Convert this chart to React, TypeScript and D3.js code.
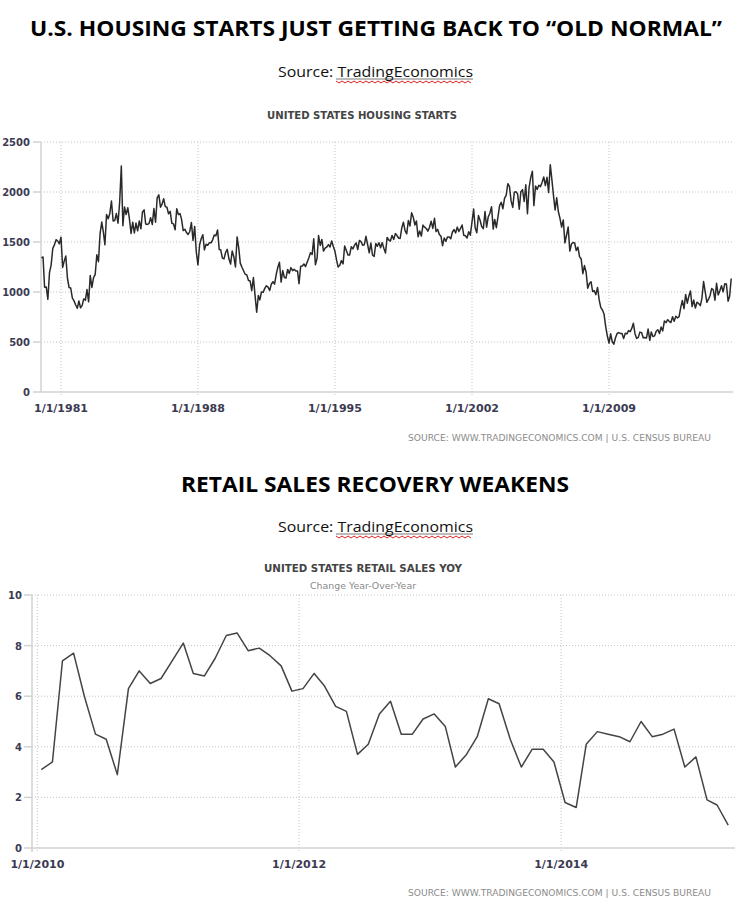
import React from "react";
import * as d3 from "d3";

// ---------- DATA ----------
// U.S. housing starts (thousands, SAAR), monthly from Jan 1980
const housing1980s = [
  1341, 1350, 1047, 1051, 927, 1196, 1269, 1436, 1471, 1523, 1510, 1482,
  1547, 1246, 1306, 1360, 1140, 1045, 1041, 940, 911, 873, 837, 910,
  843, 866, 931, 917, 1025, 902, 1166, 1046, 1144, 1173, 1372, 1303,
  1586, 1699, 1606, 1472, 1776, 1733, 1785, 1910, 1710, 1715, 1785, 1688,
  1897, 2260, 1663, 1851, 1774, 1843, 1732, 1586, 1698, 1590, 1689, 1612,
  1711, 1632, 1800, 1821, 1680, 1676, 1684, 1743, 1676, 1834, 1698, 1942,
  1972, 1848, 1876, 1933, 1854, 1847, 1782, 1807, 1687, 1681, 1623, 1833,
  1774, 1784, 1726, 1614, 1628, 1594, 1575, 1605, 1695, 1515, 1656, 1400,
  1271, 1473, 1532, 1573, 1421, 1478, 1467, 1493, 1492, 1522, 1569, 1563,
  1621, 1425, 1422, 1339, 1331, 1397, 1427, 1332, 1279, 1410, 1351, 1251,
];
const housing1990s = [
  1551, 1437, 1289, 1248, 1212, 1177, 1171, 1115, 1110, 1014, 1145, 969,
  798, 965, 921, 1001, 996, 1036, 1063, 1049, 1015, 1079, 1103, 1079,
  1176, 1250, 1297, 1099, 1214, 1145, 1139, 1226, 1186, 1244, 1214, 1227,
  1210, 1210, 1083, 1258, 1260, 1280, 1254, 1300, 1343, 1392, 1376, 1533,
  1272, 1337, 1564, 1465, 1526, 1409, 1439, 1450, 1474, 1450, 1511, 1455,
  1407, 1316, 1249, 1267, 1314, 1281, 1461, 1416, 1369, 1369, 1452, 1431,
  1467, 1491, 1424, 1516, 1504, 1467, 1472, 1557, 1475, 1392, 1489, 1370,
  1355, 1486, 1457, 1492, 1442, 1494, 1437, 1390, 1546, 1520, 1510, 1566,
  1525, 1584, 1567, 1540, 1536, 1641, 1698, 1614, 1582, 1715, 1660, 1792,
  1748, 1670, 1710, 1553, 1611, 1559, 1669, 1648, 1635, 1608, 1648, 1708,
];
const housing2000s = [
  1636, 1737, 1604, 1626, 1575, 1559, 1463, 1541, 1507, 1549, 1551, 1532,
  1600, 1625, 1590, 1649, 1605, 1636, 1670, 1567, 1562, 1540, 1602, 1568,
  1698, 1829, 1642, 1592, 1764, 1717, 1655, 1633, 1804, 1648, 1753, 1788,
  1853, 1629, 1726, 1643, 1751, 1867, 1897, 1833, 1939, 1967, 2083, 2057,
  1911, 1846, 1998, 2003, 1981, 1828, 2002, 2024, 1905, 2072, 1782, 2042,
  2144, 2207, 1864, 2061, 2025, 2068, 2054, 2095, 2151, 2065, 2147, 1994,
  2273, 2119, 1969, 1821, 1942, 1802, 1737, 1650, 1720, 1491, 1570, 1649,
  1409, 1480, 1495, 1490, 1415, 1448, 1354, 1330, 1183, 1264, 1197, 1037,
  1084, 1103, 1005, 1013, 973, 1046, 923, 844, 820, 777, 652, 560,
  490, 582, 505, 478, 540, 585, 594, 586, 585, 534, 588, 581,
];
const housing2010s = [
  614, 604, 636, 687, 583, 536, 546, 599, 594, 543, 545, 539,
  630, 517, 600, 554, 561, 608, 623, 585, 650, 610, 711, 694,
  723, 704, 695, 753, 708, 757, 740, 754, 847, 915, 833, 976,
  888, 962, 1010, 854, 919, 839, 898, 885, 864, 936, 1105, 1003,
  897, 928, 963, 1034, 1021, 918, 1087, 971, 1012, 1063, 1001, 1082,
  1080, 908, 954, 1135,
];
const housingTickYears = [1981, 1988, 1995, 2002, 2009];
const housingYTicks = [0, 500, 1000, 1500, 2000, 2500];

// U.S. retail sales YoY (%), monthly from Jan 2010
const retailValues = [
  3.1, 3.4, 7.4, 7.7, 6.0, 4.5, 4.3, 2.9, 6.3, 7.0, 6.5, 6.7,
  7.4, 8.1, 6.9, 6.8, 7.5, 8.4, 8.5, 7.8, 7.9, 7.6, 7.2, 6.2,
  6.3, 6.9, 6.4, 5.6, 5.4, 3.7, 4.1, 5.3, 5.8, 4.5, 4.5, 5.1,
  5.3, 4.8, 3.2, 3.7, 4.4, 5.9, 5.7, 4.3, 3.2, 3.9, 3.9, 3.4,
  1.8, 1.6, 4.1, 4.6, 4.5, 4.4, 4.2, 5.0, 4.4, 4.5, 4.7, 3.2,
  3.6, 1.9, 1.7, 0.9,
];
const retailTickYears = [2010, 2012, 2014];
const retailYTicks = [0, 2, 4, 6, 8, 10];

const mainTitles = [
  "U.S. HOUSING STARTS JUST GETTING BACK TO \u201COLD NORMAL\u201D",
  "RETAIL SALES RECOVERY WEAKENS",
];
const chartTitles = ["UNITED STATES HOUSING STARTS", "UNITED STATES RETAIL SALES YOY"];
const retailSubtitle = "Change Year-Over-Year";
const footnote = "SOURCE:  WWW.TRADINGECONOMICS.COM  |  U.S. CENSUS BUREAU";

// ---------- STYLE ----------
const TITLE_FONT = "'Open Sans', 'Liberation Sans', sans-serif";
const AXIS_FONT = "'DejaVu Sans', Verdana, sans-serif";
const NARROW_FONT = "'Liberation Sans Narrow', 'DejaVu Sans Condensed', 'Liberation Sans', sans-serif";
const LABEL_COLOR = "#3b3a52";
const GRID_COLOR = "#c4c4c4";
const AXIS_COLOR = "#d2d2d2";
const GRID_DASH = "1,2";

function SourceLine({ y }: { y: number }) {
  const wave = d3.range(0, 46).map((i) => [336 + i * 3, y + 4 + (i % 2 === 0 ? 0 : 2)] as [number, number]);
  return (
    <g>
      <text x={278} y={y} fontFamily={TITLE_FONT} fontSize={15} fill="#111" textLength={195} lengthAdjust="spacingAndGlyphs">
        Source: TradingEconomics
      </text>
      <line x1={336} x2={473} y1={y + 2} y2={y + 2} stroke="#555" strokeWidth={0.8} />
      <path d={d3.line()(wave) || ""} fill="none" stroke="#e02020" strokeWidth={1} />
    </g>
  );
}

function HousingChart() {
  const data = [...housing1980s, ...housing1990s, ...housing2000s, ...housing2010s].map((v, i) => ({
    date: new Date(1980, i, 1),
    value: v,
  }));
  const x = d3.scaleTime().domain([new Date(1979, 11, 25), new Date(2015, 4, 4)]).range([41, 733]);
  const y = d3.scaleLinear().domain([0, 2500]).range([392, 142]);
  const line = d3
    .line<{ date: Date; value: number }>()
    .x((d) => x(d.date))
    .y((d) => y(d.value));
  const [x0, x1] = x.range();
  const [yb, yt] = y.range();
  return (
    <g>
      {housingYTicks.map((t) => (
        <g key={t}>
          {t > 0 && (
            <line x1={x0} x2={x1} y1={y(t)} y2={y(t)} stroke={GRID_COLOR} strokeDasharray={GRID_DASH} />
          )}
          <line x1={x0 - 8} x2={x0} y1={y(t)} y2={y(t)} stroke={AXIS_COLOR} strokeWidth={1.5} />
          <text x={30} y={y(t) + 4} textAnchor="end" fontFamily={AXIS_FONT} fontWeight="bold" fontSize={10} fill={LABEL_COLOR}>
            {t}
          </text>
        </g>
      ))}
      {housingTickYears.map((yr) => {
        const xp = x(new Date(yr, 0, 1));
        return (
          <g key={yr}>
            <line x1={xp} x2={xp} y1={yt} y2={yb + 4} stroke={GRID_COLOR} strokeDasharray={GRID_DASH} />
            <text x={xp} y={412} textAnchor="middle" fontFamily={AXIS_FONT} fontWeight="bold" fontSize={11} fill={LABEL_COLOR}>
              {`1/1/${yr}`}
            </text>
          </g>
        );
      })}
      <line x1={x0} x2={x0} y1={yt} y2={yb} stroke={AXIS_COLOR} strokeWidth={1.5} />
      <line x1={x0} x2={x1} y1={yb} y2={yb} stroke={AXIS_COLOR} strokeWidth={1.5} />
      <path d={line(data) || ""} fill="none" stroke="#2a2a2a" strokeWidth={1.5} strokeLinejoin="round" />
      <text x={267} y={119} fontFamily={NARROW_FONT} fontWeight="bold" fontSize={11} fill="#444" textLength={190} lengthAdjust="spacingAndGlyphs">
        {chartTitles[0]}
      </text>
      <text x={408} y={441} fontFamily={AXIS_FONT} fontSize={8.5} fill="#8c8c8c" textLength={303} lengthAdjust="spacingAndGlyphs">
        {footnote}
      </text>
    </g>
  );
}

function RetailChart() {
  const data = retailValues.map((v, i) => ({ date: new Date(2010, i, 12), value: v }));
  const x = d3.scaleTime().domain([new Date(2009, 11, 17), new Date(2015, 4, 1)]).range([32, 735]);
  const y = d3.scaleLinear().domain([0, 10]).range([848, 595]);
  const line = d3
    .line<{ date: Date; value: number }>()
    .x((d) => x(d.date))
    .y((d) => y(d.value));
  const [x0, x1] = x.range();
  const [yb, yt] = y.range();
  return (
    <g>
      {retailYTicks.map((t) => (
        <g key={t}>
          {t > 0 && (
            <line x1={x0} x2={x1} y1={y(t)} y2={y(t)} stroke={GRID_COLOR} strokeDasharray={GRID_DASH} />
          )}
          <line x1={x0 - 8} x2={x0} y1={y(t)} y2={y(t)} stroke={AXIS_COLOR} strokeWidth={1.5} />
          <text x={22} y={y(t) + 4} textAnchor="end" fontFamily={AXIS_FONT} fontWeight="bold" fontSize={10} fill={LABEL_COLOR}>
            {t}
          </text>
        </g>
      ))}
      {retailTickYears.map((yr) => {
        const xp = x(new Date(yr, 0, 1));
        return (
          <g key={yr}>
            <line x1={xp} x2={xp} y1={yt} y2={yb + 4} stroke={GRID_COLOR} strokeDasharray={GRID_DASH} />
            <text x={xp} y={868} textAnchor="middle" fontFamily={AXIS_FONT} fontWeight="bold" fontSize={11} fill={LABEL_COLOR}>
              {`1/1/${yr}`}
            </text>
          </g>
        );
      })}
      <line x1={x0} x2={x0} y1={yt} y2={yb + 4} stroke={AXIS_COLOR} strokeWidth={1.5} />
      <line x1={x0} x2={x1} y1={yb} y2={yb} stroke={AXIS_COLOR} strokeWidth={1.5} />
      <path d={line(data) || ""} fill="none" stroke="#444" strokeWidth={1.5} strokeLinejoin="round" />
      <text x={264} y={572} fontFamily={NARROW_FONT} fontWeight="bold" fontSize={11} fill="#444" textLength={198} lengthAdjust="spacingAndGlyphs">
        {chartTitles[1]}
      </text>
      <text x={310} y={589} fontFamily={AXIS_FONT} fontSize={9} fill="#8a8a8a" textLength={106} lengthAdjust="spacingAndGlyphs">
        {retailSubtitle}
      </text>
      <text x={408} y={896} fontFamily={AXIS_FONT} fontSize={8.5} fill="#8c8c8c" textLength={303} lengthAdjust="spacingAndGlyphs">
        {footnote}
      </text>
    </g>
  );
}

export default function App() {
  return (
    <svg
      width={736}
      height={906}
      viewBox="0 0 736 906"
      style={{ position: "absolute", left: 0, top: 0, background: "#fff" }}
    >
      <rect width={736} height={906} fill="#fff" />
      <text x={30} y={36} fontFamily={TITLE_FONT} fontWeight="bold" fontSize={22} fill="#000" textLength={692} lengthAdjust="spacingAndGlyphs">
        {mainTitles[0]}
      </text>
      <SourceLine y={77} />
      <HousingChart />
      <text x={181} y={492} fontFamily={TITLE_FONT} fontWeight="bold" fontSize={22} fill="#000" textLength={388} lengthAdjust="spacingAndGlyphs">
        {mainTitles[1]}
      </text>
      <SourceLine y={532} />
      <RetailChart />
    </svg>
  );
}
